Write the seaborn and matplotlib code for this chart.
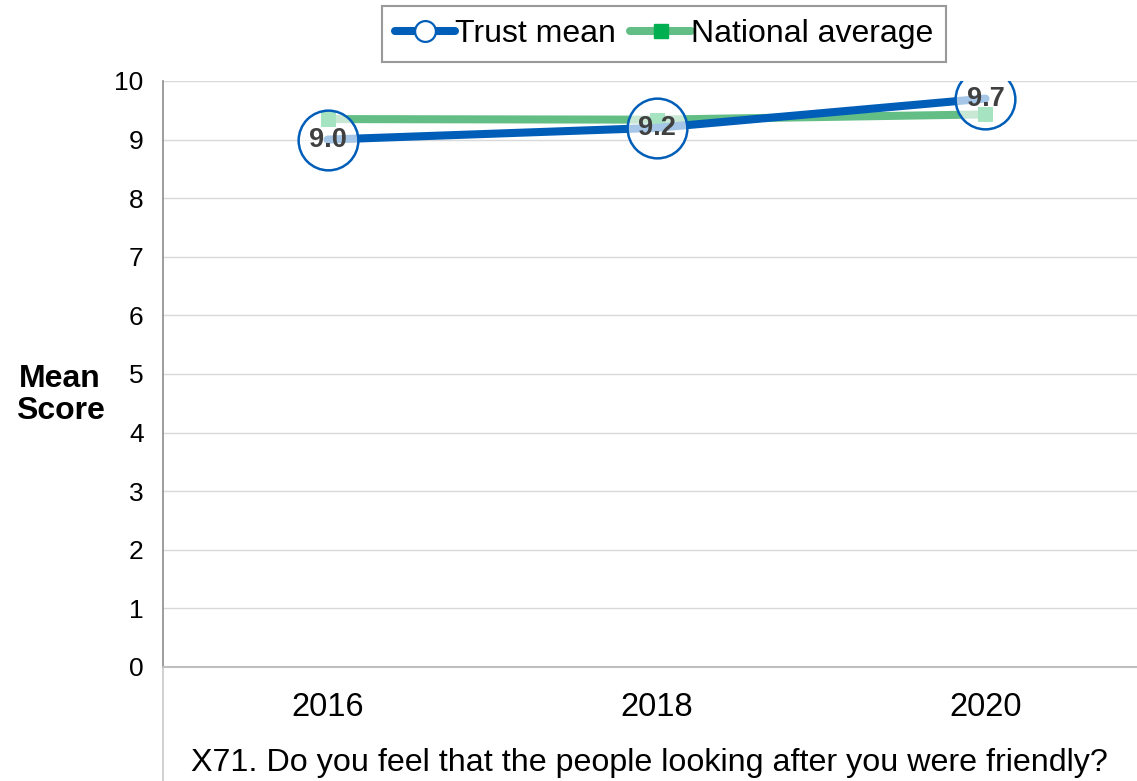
import seaborn as sns
import pandas as pd
import matplotlib.pyplot as plt
from matplotlib.lines import Line2D

###################
# Data
years = ["2016", "2018", "2020"]
trust_mean = [9.0, 9.2, 9.7]
national_avg = [9.35, 9.34, 9.43]
y_ticks = list(range(0, 11))

trust = pd.DataFrame({"Year": years, "Score": trust_mean})
national = pd.DataFrame({"Year": years, "Score": national_avg})

###################
# Setup
sns.set_style("white")
plt.rcParams["font.family"] = ["Liberation Sans", "DejaVu Sans"]
plt.rcParams["text.color"] = "black"
plt.rcParams["xtick.color"] = "black"
plt.rcParams["ytick.color"] = "black"

blue = "#005EB8"
green_line = "#63BE85"
green_mark = "#00B050"

fig = plt.figure(figsize=(11.37, 7.81), dpi=100)
ax = fig.add_axes([0.1434, 0.146, 0.868, 0.7503])

sns.lineplot(national, x="Year", y="Score", ax=ax, color=green_line, linewidth=5.8,
             marker="s", markersize=10, markerfacecolor=green_mark,
             markeredgecolor=green_mark, zorder=3)
sns.lineplot(trust, x="Year", y="Score", ax=ax, color=blue, linewidth=5.8,
             marker="o", markersize=43, markerfacecolor=(1, 1, 1, 0.65),
             markeredgecolor=blue, markeredgewidth=1.8, zorder=4)

for i, v in enumerate(trust_mean):
    ax.text(i, v, f"{v:.1f}", ha="center", va="center", fontsize=19.5,
            fontweight="bold", color="#404040", zorder=5)

###################
# Axes
ax.set_xlim(-0.5, 2.5)
ax.set_ylim(0, 10)
ax.set_yticks(y_ticks)
ax.yaxis.grid(True, color="#d9d9d9", linewidth=1)
ax.set_axisbelow(True)
ax.tick_params(axis="y", length=0, pad=14, labelsize=19)
ax.tick_params(axis="x", length=0, pad=18, labelsize=23.5)
ax.set_xticks([-0.5, 0.5, 1.5, 2.5], minor=True)
ax.tick_params(axis="x", which="minor", length=42, width=1.2, color="#c8c8c8", direction="out")
ax.set_xlabel("")
ax.set_ylabel("")
for side in ["top", "right"]:
    ax.spines[side].set_visible(False)
ax.spines["left"].set_color("#8c8c8c")
ax.spines["left"].set_linewidth(1.2)
ax.spines["bottom"].set_color("#bfbfbf")
ax.spines["bottom"].set_linewidth(1.5)
ax.plot([-0.5, -0.5], [0, -1], transform=ax.get_xaxis_transform(), color="#c8c8c8",
        linewidth=1.2, clip_on=False)

fig.text(60 / 1137, 1 - 395 / 781, "Mean\nScore", ha="center", va="center",
         fontsize=23, fontweight="bold", linespacing=1.1)
fig.text(649 / 1137, 1 - 763 / 781,
         "X71. Do you feel that the people looking after you were friendly?",
         ha="center", va="center", fontsize=23.2)

###################
# Legend
handles = [
    Line2D([], [], color=blue, linewidth=5.8, marker="o", markersize=15,
           markerfacecolor="white", markeredgecolor=blue, markeredgewidth=1.6),
    Line2D([], [], color=green_line, linewidth=5.8, marker="s", markersize=10,
           markerfacecolor=green_mark, markeredgecolor=green_mark),
]
leg = fig.legend(handles, ["Trust mean", "National average"], loc="upper center",
                 bbox_to_anchor=(664 / 1137, 1 - 6 / 781), ncol=2, fontsize=23,
                 frameon=True, fancybox=False, handlelength=1.9, handletextpad=0.0,
                 columnspacing=0.45, borderpad=0.4, borderaxespad=0)
leg.get_frame().set_edgecolor("#808080")
leg.get_frame().set_linewidth(1.5)

###################
# Export
fig.savefig("out.png", dpi=100)
